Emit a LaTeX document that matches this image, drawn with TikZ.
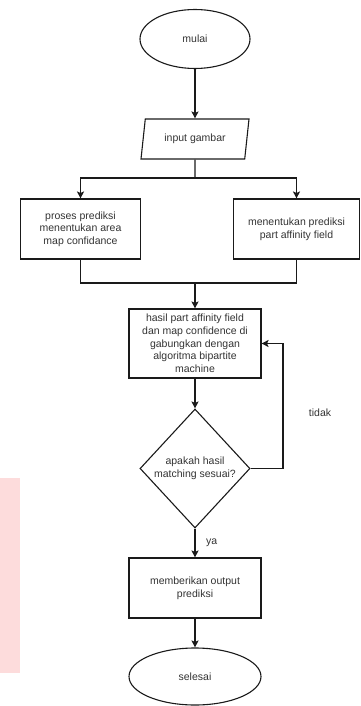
\documentclass[tikz,border=0pt]{standalone}
\usepackage{fontspec}
\setmainfont{Liberation Sans}
\usetikzlibrary{shapes.geometric,arrows.meta}
\definecolor{txt}{HTML}{333333}
\definecolor{ln}{HTML}{1A1A1A}
\definecolor{wm}{HTML}{FDDCDC}
\begin{document}
\begin{tikzpicture}[x=1pt,y=-1pt,
  base/.style={draw=ln,line width=1.1pt,text=txt,font=\fontsize{10.5}{12.7}\selectfont,align=center,inner sep=1pt},
  boxnode/.style={base,rectangle},
  term/.style={base,ellipse},
  dec/.style={base,diamond},
  io/.style={base,trapezium,trapezium left angle=70,trapezium right angle=110,trapezium stretches body},
  arr/.style={draw=ln,line width=1.1pt,-{Stealth[length=7pt,width=7pt,inset=1.5pt]}},
  lin/.style={draw=ln,line width=1.1pt},
  lbl/.style={text=txt,font=\fontsize{10.5}{12.7}\selectfont,inner sep=0pt}]
\useasboundingbox (0,0) rectangle (360,706);
\fill[wm] (0,478) rectangle (20,673);
\node[term,minimum width=110pt,minimum height=59pt] (s) at (195,39) {mulai};
\node[io,minimum width=108pt,minimum height=40pt] (in) at (195,139) {input gambar};
\node[boxnode,minimum width=120pt,minimum height=60pt] (b1) at (80.5,229) {proses prediksi\\menentukan area\\map confidance};
\node[boxnode,minimum width=126pt,minimum height=60pt] (b2) at (296.5,229) {menentukan prediksi\\part affinity field};
\node[boxnode,minimum width=132pt,minimum height=69pt] (h) at (195,343.5) {hasil part affinity field\\dan map confidence di\\gabungkan dengan\\algoritma bipartite\\machine};
\node[dec,minimum width=110pt,minimum height=119pt] (d) at (195,468.5) {apakah hasil\\matching sesuai?};
\node[boxnode,minimum width=132pt,minimum height=60pt] (o) at (195,588) {memberikan output\\prediksi};
\node[term,minimum width=132pt,minimum height=57pt] (e) at (195,676.5) {selesai};
\coordinate (split) at (195,178);
\coordinate (merge) at (195,283);
\coordinate (loop) at (283,468.5);
\node[lbl] (t) at (320,413) {tidak};
\node[lbl,anchor=west] (y) at (206,543) {ya};
\draw[arr] (s) -- (in);
\draw[lin] (in.south) -- (split);
\draw[arr] (split) -| (b1.north);
\draw[arr] (split) -| (b2.north);
\draw[lin] (b1.south) |- (merge);
\draw[lin] (b2.south) |- (merge);
\draw[arr] (merge) -- (h.north);
\draw[arr] (h) -- (d);
\draw[arr] (d.east) -- (loop) |- (h.east);
\draw[arr] (d) -- (o);
\draw[arr] (o) -- (e);
\end{tikzpicture}
\end{document}
